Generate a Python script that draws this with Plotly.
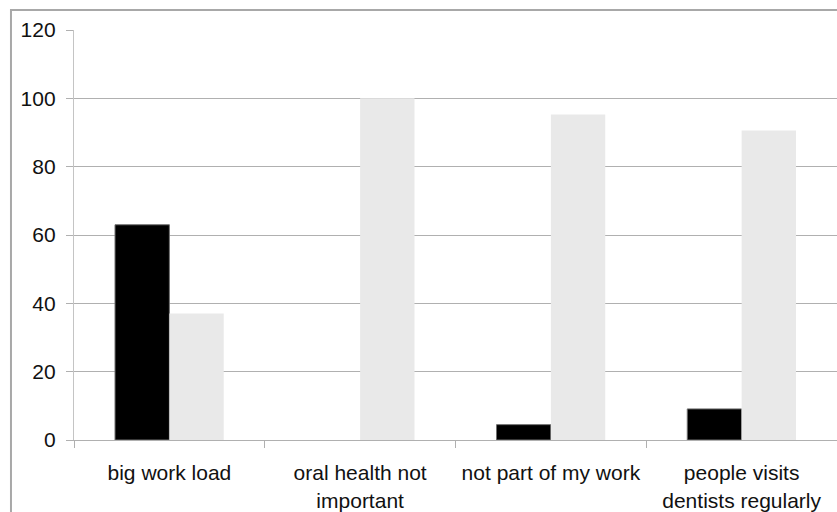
import plotly.graph_objects as go

categories = ["big work load", "oral health not<br>important", "not part of my work",
              "people visits<br>dentists regularly"]
series_dark = [63, 0, 4.5, 9.1]
series_light = [37, 100, 95.3, 90.6]
y_ticks = [0, 20, 40, 60, 80, 100, 120]

fig = go.Figure()
fig.add_trace(go.Bar(x=categories, y=series_dark, name="Series 1",
                     marker=dict(color="#000000",
                                 line=dict(color="#707070",
                                           width=[1 if v > 0 else 0 for v in series_dark]))))
fig.add_trace(go.Bar(x=categories, y=series_light, name="Series 2",
                     marker=dict(color="#e9e9e9", line=dict(width=0))))

fig.update_layout(
    width=837, height=512,
    margin=dict(l=74, r=0, t=30, b=72),
    paper_bgcolor="white", plot_bgcolor="white",
    barmode="group", bargap=0.43, bargroupgap=0,
    showlegend=False,
    font=dict(family="Liberation Sans, Arial, sans-serif", size=21, color="#111111"),
)
fig.update_yaxes(
    range=[0, 120], tickvals=y_ticks, showgrid=True, gridcolor="#b0b0b0", gridwidth=1.3,
    showline=True, linecolor="#c4c4c4", linewidth=1.3,
    ticks="outside", ticklen=7, tickcolor="#b0b0b0", tickwidth=1.3,
    ticklabelstandoff=6, zeroline=False, automargin=False,
    tickfont=dict(size=21),
)
fig.update_xaxes(
    range=[-0.5, 3.5], showline=True, linecolor="#b0b0b0", linewidth=1.3,
    ticks="outside", tickson="boundaries", ticklen=7, tickcolor="#b0b0b0", tickwidth=1.3,
    ticklabelstandoff=14, tickfont=dict(size=21), automargin=False,
)
# outer chart border
fig.add_shape(type="rect", xref="paper", yref="paper",
              x0=-0.0826, x1=1.2, y0=-0.3, y1=1.0488,
              line=dict(color="#a8a8a8", width=2), fillcolor="rgba(0,0,0,0)", layer="below")

fig.write_html("out.html", post_script="document.body.style.margin='0';",
               config={"displayModeBar": False})
